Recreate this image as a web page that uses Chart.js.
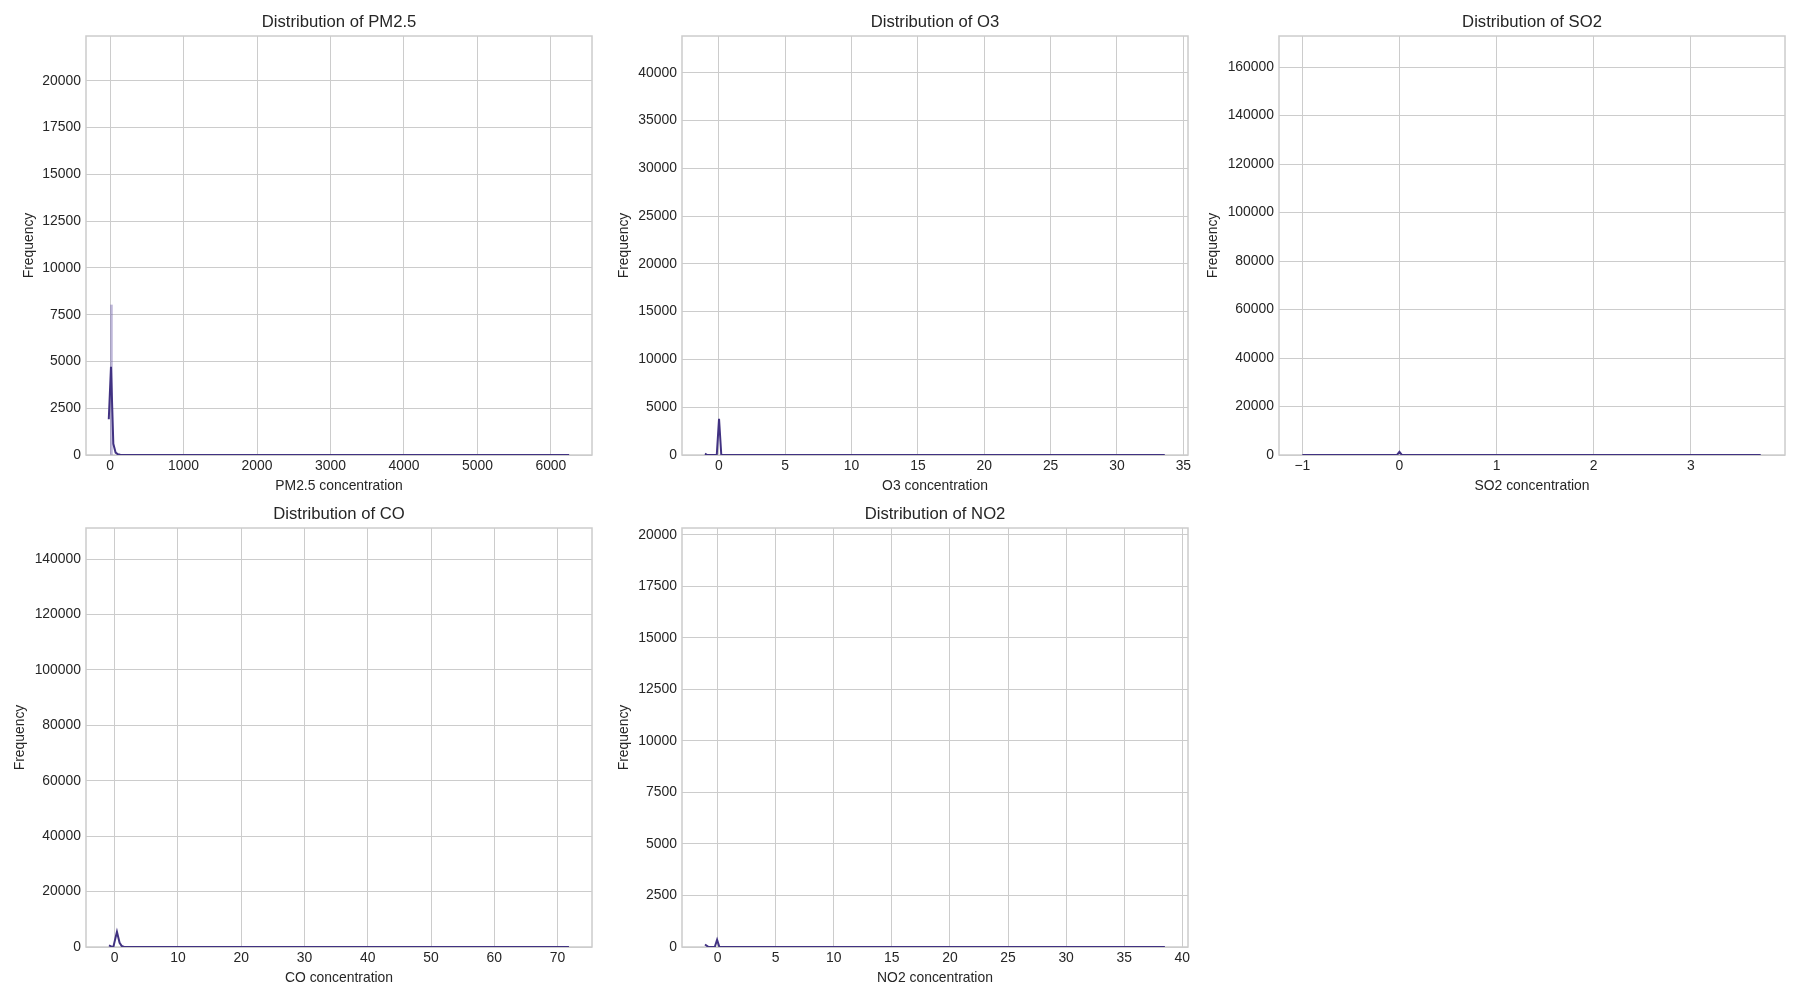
<!DOCTYPE html>
<html>
<head>
<meta charset="utf-8">
<title>Pollutant distributions</title>
<script src="https://cdn.jsdelivr.net/npm/chart.js@4.4.1/dist/chart.umd.min.js"></script>
<style>
    html, body { margin: 0; padding: 0; background: #ffffff; }
    body { width: 1800px; height: 1000px; position: relative; overflow: hidden; }
    canvas { position: absolute; }
</style>
</head>
<body>
<script>
// Curvas KDE (x = concentración, y = frecuencia)
const pm25X = [-18, 12, 44, 75, 107, 138, 170, 6249];
const pm25Y = [1910, 4710, 600, 130, 35, 10, 0, 0];
const pm25BinX = [18];
const pm25BinY = [8020];

const o3X = [-1.04, -0.87, -0.15, 0.02, 0.19, 33.6];
const o3Y = [150, 0, 0, 3800, 0, 0];

const so2X = [-1, -0.025, 0, 0.025, 3.72];
const so2Y = [0, 0, 1250, 0, 0];

const coX = [-0.9, -0.4, -0.2, 0.36, 0.78, 1.1, 1.5, 71.8];
const coY = [600, 60, 120, 5500, 1500, 400, 0, 0];

const no2X = [-1.08, -0.8, -0.24, -0.04, 0.16, 38.5];
const no2Y = [120, 10, 0, 350, 0, 0];

// Marcas de los ejes
const pm25XTicks = [0, 1000, 2000, 3000, 4000, 5000, 6000];
const o3XTicks = [0, 5, 10, 15, 20, 25, 30, 35];
const so2XTicks = [-1, 0, 1, 2, 3];
const coXTicks = [0, 10, 20, 30, 40, 50, 60, 70];
const no2XTicks = [0, 5, 10, 15, 20, 25, 30, 35, 40];

const pm25YTicks = [0, 2500, 5000, 7500, 10000, 12500, 15000, 17500, 20000];
const o3YTicks = [0, 5000, 10000, 15000, 20000, 25000, 30000, 35000, 40000];
const so2YTicks = [0, 20000, 40000, 60000, 80000, 100000, 120000, 140000, 160000];
const coYTicks = [0, 20000, 40000, 60000, 80000, 100000, 120000, 140000];
const no2YTicks = [0, 2500, 5000, 7500, 10000, 12500, 15000, 17500, 20000];

// Textos y límites
const pollutants = ['PM2.5', 'O3', 'SO2', 'CO', 'NO2'];
const yMax = [22400, 43850, 172800, 151200, 20330];
const xMin = [-328, -2.77, -1.24, -4.53, -3.06];
const xMax = [6560, 35.35, 3.97, 75.44, 40.49];

const kdeX = [pm25X, o3X, so2X, coX, no2X];
const kdeY = [pm25Y, o3Y, so2Y, coY, no2Y];
const xTicks = [pm25XTicks, o3XTicks, so2XTicks, coXTicks, no2XTicks];
const yTicks = [pm25YTicks, o3YTicks, so2YTicks, coYTicks, no2YTicks];

// Posición de cada panel (esquina superior izquierda del área de trazado)
const panels = [
    { left: 86, top: 36, yTitlePad: 15 },
    { left: 682, top: 36, yTitlePad: 14 },
    { left: 1279, top: 36, yTitlePad: 6 },
    { left: 86, top: 528, yTitlePad: 6 },
    { left: 682, top: 528, yTitlePad: 14 }
];

const FONT = "'Liberation Sans', Arial, sans-serif";
const TEXT = '#262626';
const GRID = '#cccccc';
const LINE = '#413282';

Chart.defaults.font.family = FONT;
Chart.defaults.color = TEXT;

const plotFrame = {
    id: 'plotFrame',
    beforeDatasetsDraw(chart) {
        const { ctx, chartArea: a } = chart;
        ctx.save();
        ctx.strokeStyle = GRID;
        ctx.lineWidth = 1.5;
        ctx.strokeRect(a.left, a.top, a.right - a.left, a.bottom - a.top);
        ctx.restore();
    }
};

function formatTick(value) {
    return String(value).replace('-', '\u2212');
}

function toPoints(xs, ys) {
    return xs.map((x, i) => ({ x: x, y: ys[i] }));
}

function fixedTicks(values) {
    return (scale) => {
        scale.ticks = values.map(v => ({ value: v }));
    };
}

function makeChart(i) {
    const box = panels[i];
    const canvas = document.createElement('canvas');
    canvas.width = 606;
    canvas.height = 483;
    canvas.style.left = (box.left - 80) + 'px';
    canvas.style.top = (box.top - 24) + 'px';
    document.body.appendChild(canvas);

    const datasets = [{
        type: 'scatter',
        data: toPoints(kdeX[i], kdeY[i]),
        showLine: true,
        borderColor: LINE,
        borderWidth: 2,
        pointRadius: 0,
        tension: 0
    }];

    if (i === 0) {
        // Única barra del histograma que se distingue en el gráfico
        datasets.push({
            type: 'bar',
            data: toPoints(pm25BinX, pm25BinY),
            backgroundColor: 'rgba(110, 96, 170, 0.45)',
            barThickness: 2,
            grouped: false
        });
    }

    new Chart(canvas, {
        type: 'scatter',
        data: { datasets: datasets },
        options: {
            responsive: false,
            animation: false,
            devicePixelRatio: 1,
            layout: { padding: { left: 0, right: 20, top: 0, bottom: 0 } },
            plugins: {
                legend: { display: false },
                tooltip: { enabled: false },
                title: {
                    display: true,
                    text: 'Distribution of ' + pollutants[i],
                    fullSize: false,
                    color: TEXT,
                    font: { size: 16.67, weight: 'normal', family: FONT },
                    padding: { top: 0, bottom: 4 }
                }
            },
            scales: {
                x: {
                    type: 'linear',
                    min: xMin[i],
                    max: xMax[i],
                    offset: false,
                    afterBuildTicks: fixedTicks(xTicks[i]),
                    afterFit: (scale) => { scale.height = 40; },
                    border: { display: false },
                    grid: { color: GRID, lineWidth: 1, drawTicks: false, offset: false },
                    ticks: {
                        autoSkip: false,
                        maxRotation: 0,
                        padding: 3,
                        color: TEXT,
                        font: { size: 13.9 },
                        callback: formatTick
                    },
                    title: {
                        display: true,
                        text: pollutants[i] + ' concentration',
                        color: TEXT,
                        font: { size: 13.9 },
                        padding: { top: 0, bottom: 0 }
                    }
                },
                y: {
                    type: 'linear',
                    min: 0,
                    max: yMax[i],
                    afterBuildTicks: fixedTicks(yTicks[i]),
                    afterFit: (scale) => { scale.width = 80; },
                    border: { display: false },
                    grid: { color: GRID, lineWidth: 1, drawTicks: false, offset: false },
                    ticks: {
                        autoSkip: false,
                        padding: 5,
                        color: TEXT,
                        font: { size: 13.9 },
                        callback: formatTick
                    },
                    title: {
                        display: true,
                        text: 'Frequency',
                        color: TEXT,
                        font: { size: 13.9 },
                        padding: { top: box.yTitlePad, bottom: 0 }
                    }
                }
            }
        },
        plugins: [plotFrame]
    });
}

pollutants.forEach((p, i) => makeChart(i));
</script>
</body>
</html>
